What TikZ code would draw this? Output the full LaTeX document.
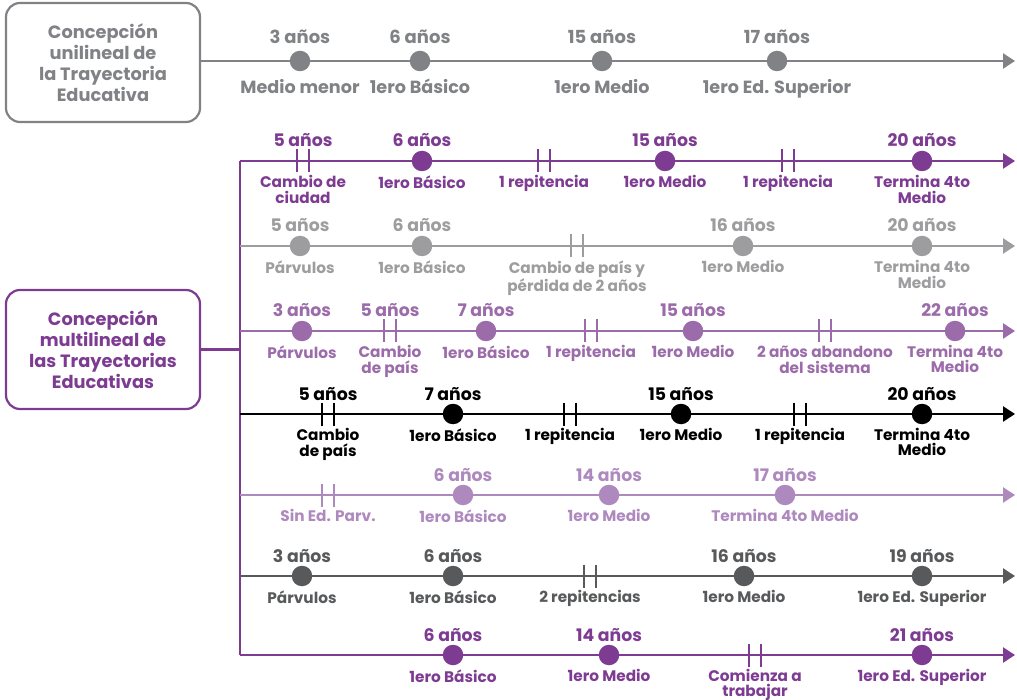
\documentclass[tikz,border=0pt]{standalone}
\usepackage{fontspec}
\setmainfont{Poppins}
\usetikzlibrary{arrows.meta,calc}
\definecolor{gA}{HTML}{808285}
\definecolor{pD}{HTML}{7D3C92}
\definecolor{gL}{HTML}{9D9D9F}
\definecolor{pM}{HTML}{9B6BAA}
\definecolor{pL}{HTML}{AE89BE}
\definecolor{gD}{HTML}{58595B}
\colorlet{rc}{black}
\newcommand\upfont{\fontsize{17.3}{16}\selectfont\bfseries}
\newcommand\dnfont{\fontsize{15.3}{16}\selectfont\bfseries}
\newcommand\boxfont{\fontsize{17.8}{21}\selectfont\bfseries}
\def\ry{0}
\def\upoff{14}
\def\dnoff{14.5}
\newcommand\dotev[4]{%
  \node[dot] (#1) at (#2,\ry) {};
  \node[up] (#1a) at (#2,\ry-\upoff) {#3};
  \node[dn] (#1b) at (#2,\ry+\dnoff) {#4};}
\newcommand\brkev[4]{%
  \coordinate (#1) at (#2,\ry);
  \draw[tick] ($(#1)+(-6,-11.5)$) -- ($(#1)+(-6,11.5)$)
              ($(#1)+(6,-11.5)$) -- ($(#1)+(6,11.5)$);
  \if\relax\detokenize{#3}\relax\else\node[up] (#1a) at (#2,\ry-\upoff) {#3};\fi
  \node[dn] (#1b) at (#2,\ry+\dnoff) {#4};}
\tikzset{
  rowline/.style={line width=2.5pt, draw=rc, -{Triangle[length=12pt,width=15pt]}},
  tick/.style={line width=2.5pt, draw=rc},
  dot/.style={circle, fill=rc, minimum size=20.5pt, inner sep=0pt},
  up/.style={anchor=base, font=\upfont, text=rc, inner sep=0pt},
  dn/.style={anchor=north, font=\dnfont, text=rc, align=center, inner sep=0pt},
  concept/.style={draw=#1, text=#1, line width=2.2pt, rounded corners=14pt,
    minimum width=194pt, minimum height=119pt, align=center, font=\boxfont, inner sep=0pt},
}
\begin{document}
\begin{tikzpicture}[x=1pt,y=-1pt]
\useasboundingbox (0,0) rectangle (1017,700);
% unilineal
\node[concept=gA] (uni) at (103,62.5) {Concepción\\unilineal de\\la Trayectoria\\Educativa};
\begin{scope}
\colorlet{rc}{gA}\def\ry{61}
\def\upoff{17.5}\def\dnoff{18}
\renewcommand\upfont{\fontsize{18}{16}\selectfont\bfseries}
\renewcommand\dnfont{\fontsize{17.6}{16}\selectfont\bfseries}
\coordinate (u0e) at (1015,61);
\draw[rowline] (uni.east |- u0e) -- (u0e);
\dotev{u1}{300}{3 años}{Medio menor}
\dotev{u2}{420}{6 años}{1ero Básico}
\dotev{u3}{602}{15 años}{1ero Medio}
\dotev{u4}{777}{17 años}{1ero Ed. Superior}
\end{scope}
% multilineal
\node[concept=pD] (multi) at (103,349.5) {Concepción\\multilineal de\\las Trayectorias\\Educativas};
\coordinate (busT) at (240,161);
\coordinate (busB) at (240,655);
\coordinate (busM) at (240,349.5);
\draw[line width=2.5pt, pD] (multi.east) -- (busM);
\draw[line width=2.5pt, pD] (busT) -- (busB);
% row 1
\begin{scope}
\colorlet{rc}{pD}\def\ry{161}
\coordinate (r1e) at (1015,161);
\draw[rowline] (busT) -- (r1e);
\brkev{a1}{303}{5 años}{Cambio de\\ciudad}
\dotev{a2}{422}{6 años}{1ero Básico}
\brkev{a3}{544}{}{1 repitencia}
\dotev{a4}{665}{15 años}{1ero Medio}
\brkev{a5}{788}{}{1 repitencia}
\dotev{a6}{922}{20 años}{Termina 4to\\Medio}
\end{scope}
% row 2
\begin{scope}
\colorlet{rc}{gL}\def\ry{246}
\coordinate (r2s) at (240,246);
\coordinate (r2e) at (1015,246);
\draw[rowline] (r2s) -- (r2e);
\dotev{b1}{300}{5 años}{Párvulos}
\dotev{b2}{422}{6 años}{1ero Básico}
\brkev{b3}{577}{}{Cambio de país y\\pérdida de 2 años}
\dotev{b4}{743}{16 años}{1ero Medio}
\dotev{b5}{922}{20 años}{Termina 4to\\Medio}
\end{scope}
% row 3
\begin{scope}
\colorlet{rc}{pM}\def\ry{331}
\coordinate (r3s) at (240,331);
\coordinate (r3e) at (1015,331);
\draw[rowline] (r3s) -- (r3e);
\dotev{c1}{302}{3 años}{Párvulos}
\brkev{c2}{390}{5 años}{Cambio\\de país}
\dotev{c3}{486}{7 años}{1ero Básico}
\brkev{c4}{591}{}{1 repitencia}
\dotev{c5}{693}{15 años}{1ero Medio}
\brkev{c6}{825}{}{2 años abandono\\del sistema}
\dotev{c7}{955}{22 años}{Termina 4to\\[-1.5pt]Medio}
\end{scope}
% row 4
\begin{scope}
\colorlet{rc}{black}\def\ry{414}
\coordinate (r4s) at (240,414);
\coordinate (r4e) at (1015,414);
\draw[rowline] (r4s) -- (r4e);
\brkev{d1}{328}{5 años}{Cambio\\de país}
\dotev{d2}{453}{7 años}{1ero Básico}
\brkev{d3}{570}{}{1 repitencia}
\dotev{d4}{681}{15 años}{1ero Medio}
\brkev{d5}{800}{}{1 repitencia}
\dotev{d6}{922}{20 años}{Termina 4to\\[-1.5pt]Medio}
\end{scope}
% row 5
\begin{scope}
\colorlet{rc}{pL}\def\ry{495}
\coordinate (r5s) at (240,495);
\coordinate (r5e) at (1015,495);
\draw[rowline] (r5s) -- (r5e);
\brkev{e1}{328}{}{Sin Ed. Parv.}
\dotev{e2}{463}{6 años}{1ero Básico}
\dotev{e3}{609}{14 años}{1ero Medio}
\dotev{e4}{785}{17 años}{Termina 4to Medio}
\end{scope}
% row 6
\begin{scope}
\colorlet{rc}{gD}\def\ry{576}
\coordinate (r6s) at (240,576);
\coordinate (r6e) at (1015,576);
\draw[rowline] (r6s) -- (r6e);
\dotev{f1}{302}{3 años}{Párvulos}
\dotev{f2}{453}{6 años}{1ero Básico}
\brkev{f3}{590}{}{2 repitencias}
\dotev{f4}{744}{16 años}{1ero Medio}
\dotev{f5}{922}{19 años}{1ero Ed. Superior}
\end{scope}
% row 7
\begin{scope}
\colorlet{rc}{pD}\def\ry{655}
\coordinate (r7e) at (1015,655);
\draw[rowline] (busB) -- (r7e);
\dotev{g1}{453}{6 años}{1ero Básico}
\dotev{g2}{609}{14 años}{1ero Medio}
\brkev{g3}{755}{}{Comienza a\\[-1.5pt]trabajar}
\dotev{g4}{922}{21 años}{1ero Ed. Superior}
\end{scope}
\end{tikzpicture}
\end{document}
